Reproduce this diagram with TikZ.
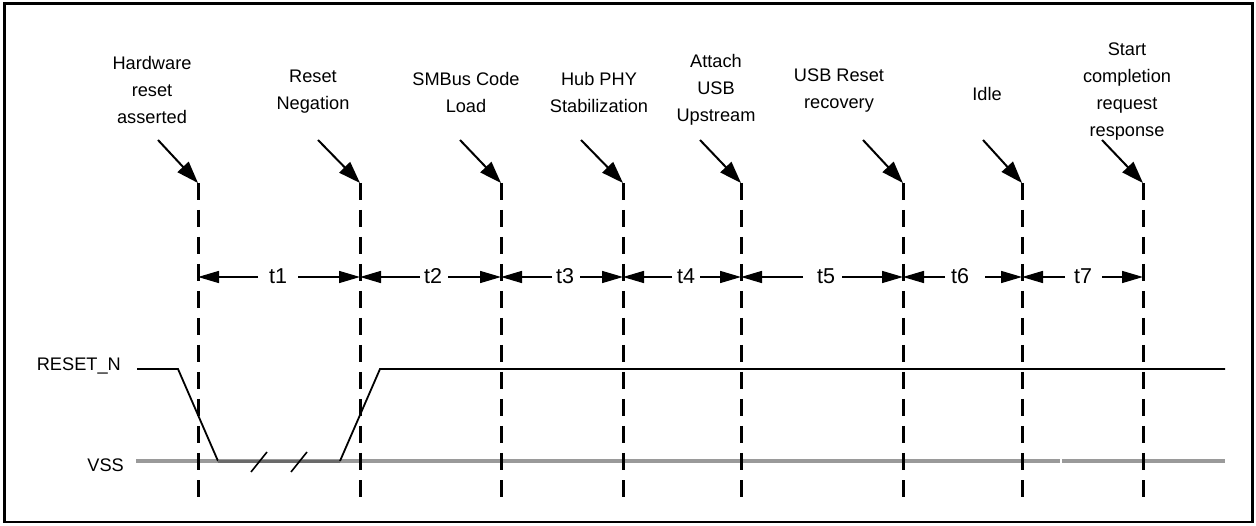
\documentclass[tikz,border=0pt]{standalone}
\usepackage{fontspec}
\setmainfont{Liberation Sans}
\usetikzlibrary{arrows.meta}
\definecolor{vssgray}{HTML}{9A9A9A}
\definecolor{flatgray}{HTML}{6A6A6A}
\begin{document}
\begin{tikzpicture}[x=1pt,y=-1pt,
 lbl/.style={align=center,font=\fontsize{18.2}{27}\selectfont,inner sep=0pt},
 tl/.style={font=\fontsize{21.5}{25}\selectfont,inner sep=0pt},
 sl/.style={font=\fontsize{18.2}{22}\selectfont,inner sep=0pt,anchor=east},
 marker/.style={line width=3pt,dash pattern=on 17pt off 10pt},
 ptr/.style={line width=2pt,-{Triangle[length=22pt,width=15pt]}},
 dim/.style={line width=1.5pt,-{Triangle[length=21pt,width=12pt]}},
 sig/.style={line width=1.8pt,line join=miter},
 vss/.style={line width=4pt,color=vssgray},
 brk/.style={line width=1.6pt}]
\useasboundingbox (0,0) rectangle (1256,526);
\draw[line width=2.5pt] (4.5,3.5) rectangle (1252.5,522);

% top labels
\node[lbl] (l1) at (152,90) {Hardware\\reset\\asserted};
\node[lbl] (l2) at (313,92) {Reset\\Negation};
\node[lbl] (l3) at (466,92) {SMBus Code\\Load};
\node[lbl] (l4) at (599,92) {Hub PHY\\Stabilization};
\node[lbl] (l5) at (716,90) {Attach\\USB\\Upstream};
\node[lbl] (l6) at (839,91) {USB Reset\\recovery};
\node[lbl] (l7) at (987,94) {Idle};
\node[lbl] (l8) at (1127,92) {Start\\completion\\request\\response};

% signal labels
\node[sl] (rn) at (121,366) {RESET\_N};
\node[sl] (vl) at (124,465) {VSS};

% VSS line
\coordinate (vs0) at (136,461);
\coordinate (vs1) at (1059.5,461);
\coordinate (vs2) at (1062,461);
\coordinate (vs3) at (1225,461);
\draw[vss] (vs0) -- (vs1);
\draw[vss] (vs2) -- (vs3);

% RESET_N waveform
\coordinate (s0) at (137,369);
\coordinate (s1) at (178,369);
\coordinate (s2) at (218,461);
\coordinate (s3) at (340,461);
\coordinate (s4) at (380,369);
\coordinate (s5) at (1225,369);
\draw[sig] (s0) -- (s1) -- (s2);
\draw[line width=3pt,flatgray] (s2) -- (s3);
\draw[sig] (s3) -- (s4) -- (s5);

% break marks
\coordinate (b1a) at (251,472); \coordinate (b1b) at (267,452);
\coordinate (b2a) at (291,472); \coordinate (b2b) at (307,452);
\draw[brk] (b1a) -- (b1b);
\draw[brk] (b2a) -- (b2b);

% dashed markers and pointer arrows
\foreach \i/\x/\s in {1/198/158,2/360/318,3/501/460,4/623/581,5/741/700,6/903/863,7/1022/983,8/1143/1102}{
  \coordinate (vt\i) at (\x,183);
  \coordinate (vb\i) at (\x,500);
  \coordinate (ps\i) at (\s,140);
  \draw[marker] (vt\i) -- (vb\i);
  \draw[ptr] (ps\i) -- (vt\i);
}

% interval dimensions
\foreach \i/\j/\c/\l/\r in {1/2/278/258/298,2/3/433/420/448,3/4/565/552/580,4/5/686/672/700,5/6/826/803/842,6/7/960/945/985,7/8/1083/1065/1102}{
  \node[tl] (t\i) at (\c,276) {t\i};
  \coordinate (dl\i) at (\l,277);
  \coordinate (dr\i) at (\r,277);
  \draw[dim] (dl\i) -- (vt\i |- dl\i);
  \draw[dim] (dr\i) -- (vt\j |- dr\i);
}
\end{tikzpicture}
\end{document}
